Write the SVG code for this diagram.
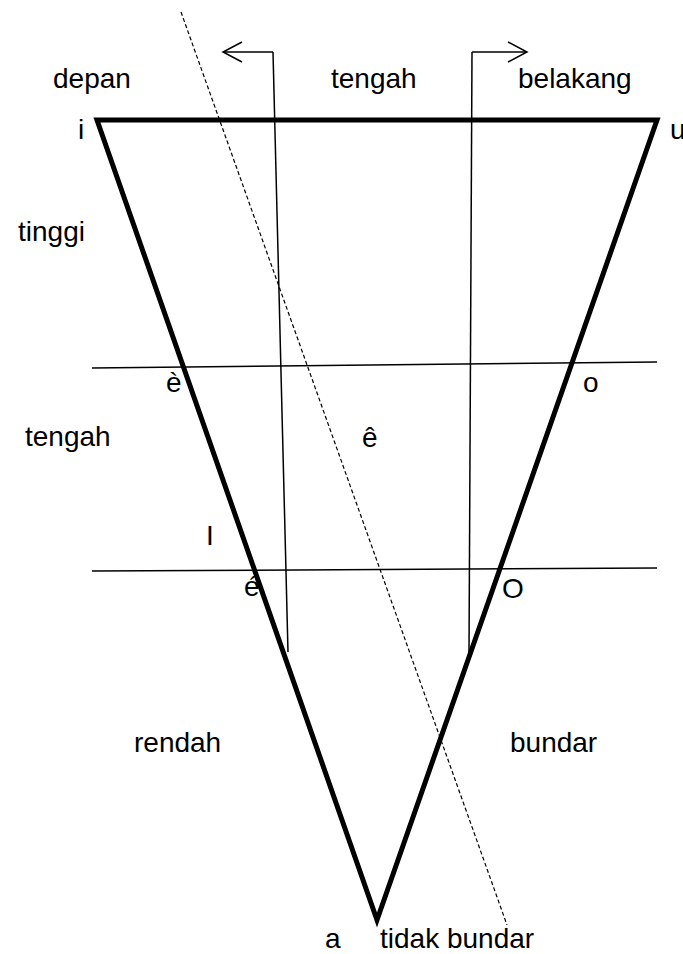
<svg xmlns="http://www.w3.org/2000/svg" width="683" height="954" viewBox="0 0 683 954">
<style>
text{font-family:"Liberation Sans",Arial,sans-serif;font-size:28px;fill:#000}
.thin{stroke:#000;stroke-width:1.5;fill:none}
.thick{stroke:#000;stroke-width:5;fill:none;stroke-linejoin:miter;stroke-miterlimit:10}
.dash{stroke:#000;stroke-width:1.2;fill:none;stroke-dasharray:4 2.5}
</style>
<rect width="683" height="954" fill="#fff"/>
<g id="connectors">
<polygon class="thick" points="97,120 657,120 377,920"/>
<line class="thin" x1="92" y1="368" x2="657" y2="362"/>
<line class="thin" x1="92" y1="571" x2="657" y2="568"/>
<line class="thin" x1="273" y1="52" x2="288" y2="652"/>
<line class="thin" x1="472" y1="52" x2="469" y2="652"/>
<polyline class="thin" points="273,52 223,52"/>
<polyline class="thin" points="242,42 223,52 242,62"/>
<polyline class="thin" points="472,52 527,52"/>
<polyline class="thin" points="508,42 527,52 508,62"/>
<line class="dash" x1="181" y1="12" x2="507" y2="925"/>
</g>
<g id="labels">
<text x="53" y="88">depan</text>
<text x="331" y="88">tengah</text>
<text x="518" y="88">belakang</text>
<text x="78" y="139">i</text>
<text x="670" y="139">u</text>
<text x="18" y="241">tinggi</text>
<text x="166" y="392">è</text>
<text x="583" y="392">o</text>
<text x="25" y="446">tengah</text>
<text x="362" y="447">ê</text>
<text x="206" y="545">I</text>
<text x="244" y="596">é</text>
<text x="502" y="598">O</text>
<text x="134" y="752">rendah</text>
<text x="510" y="752">bundar</text>
<text x="325" y="948">a</text>
<text x="380" y="948">tidak bundar</text>
</g>
</svg>
